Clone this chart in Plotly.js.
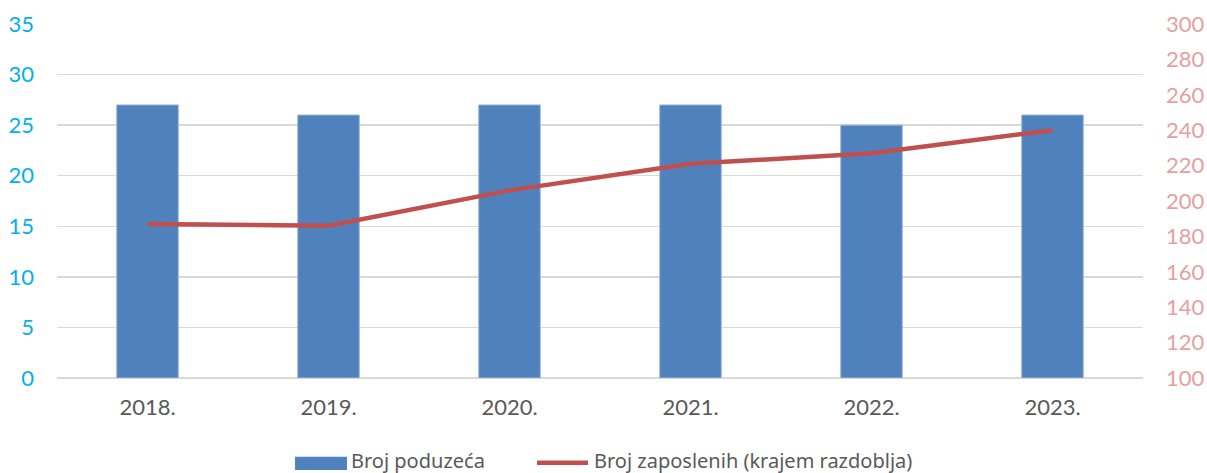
<!DOCTYPE html>
<html>
<head>
<meta charset="utf-8">
<script src="https://cdn.plot.ly/plotly-3.0.1.min.js"></script>
<style>html,body{margin:0;padding:0;background:#fff;}#chart{width:1207px;height:473px;}</style>
</head>
<body>
<div id="chart"></div>
<script>
const years = ["2018.", "2019.", "2020.", "2021.", "2022.", "2023."];
const brojPoduzeca = [27, 26, 27, 27, 25, 26];
const brojZaposlenih = [187, 186, 206, 221, 227, 240];
const leftTicks = [0, 5, 10, 15, 20, 25, 30, 35];
const rightTicks = [100, 120, 140, 160, 180, 200, 220, 240, 260, 280, 300];
const seriesNames = ["Broj poduzeća", "Broj zaposlenih (krajem razdoblja)"];

const tickFont = "Lato, 'Noto Sans', sans-serif";
const legendFont = "'Noto Sans', 'Open Sans', sans-serif";
const barColor = "#4F81BD";
const lineColor = "#C0504D";

const traces = [
  {
    type: "bar", x: years, y: brojPoduzeca, name: seriesNames[0],
    marker: {color: barColor, line: {color: "#9DB7DA", width: 1}},
    yaxis: "y"
  },
  {
    type: "scatter", mode: "lines", x: years, y: brojZaposlenih,
    name: seriesNames[1],
    line: {color: lineColor, width: 4.5},
    yaxis: "y2"
  }
];

// custom legend (Excel style) in paper coordinates
const legY = -0.2330;
const shapes = [
  {type: "rect", xref: "paper", yref: "paper", x0: 0.2192, x1: 0.2670, y0: -0.2223, y1: -0.2599,
   fillcolor: barColor, line: {width: 0}},
  {type: "line", xref: "paper", yref: "paper", x0: 0.4420, x1: 0.4890, y0: -0.2393, y1: -0.2393,
   line: {color: lineColor, width: 4.5}}
];
const annotations = [
  {xref: "paper", yref: "paper", x: 0.2700, y: legY, xanchor: "left", yanchor: "middle", borderpad: 0,
   text: seriesNames[0], showarrow: false, font: {family: legendFont, size: 20, color: "#595959"}},
  {xref: "paper", yref: "paper", x: 0.4940, y: legY, xanchor: "left", yanchor: "middle", borderpad: 0,
   text: seriesNames[1], showarrow: false, font: {family: legendFont, size: 20, color: "#595959"}}
];

const layout = {
  width: 1207, height: 473,
  margin: {l: 57, r: 64, t: 24, b: 95},
  paper_bgcolor: "#fff", plot_bgcolor: "#fff",
  font: {family: tickFont, size: 22, color: "#595959"},
  bargap: 0.66,
  showlegend: false,
  shapes: shapes,
  annotations: annotations,
  xaxis: {type: "category", showgrid: false, showline: false, ticks: "", automargin: false,
          tickfont: {size: 22, color: "#595959"}, ticklabelstandoff: 14},
  yaxis: {range: [0, 35], tickvals: leftTicks, showgrid: true, gridcolor: "#D9D9D9", gridwidth: 1.5,
          zeroline: true, zerolinecolor: "#D9D9D9", zerolinewidth: 1.5, automargin: false,
          tickfont: {size: 22, color: "#00B0F0"}, ticks: "", ticklabelstandoff: 22, showline: false},
  yaxis2: {range: [100, 300], tickvals: rightTicks, overlaying: "y", side: "right", showgrid: false,
           zeroline: false, automargin: false, tickfont: {size: 22, color: "#E6A0A0"}, ticks: "", ticklabelstandoff: 22}
};

Plotly.newPlot("chart", traces, layout, {displayModeBar: false, staticPlot: true});
</script>
</body>
</html>
